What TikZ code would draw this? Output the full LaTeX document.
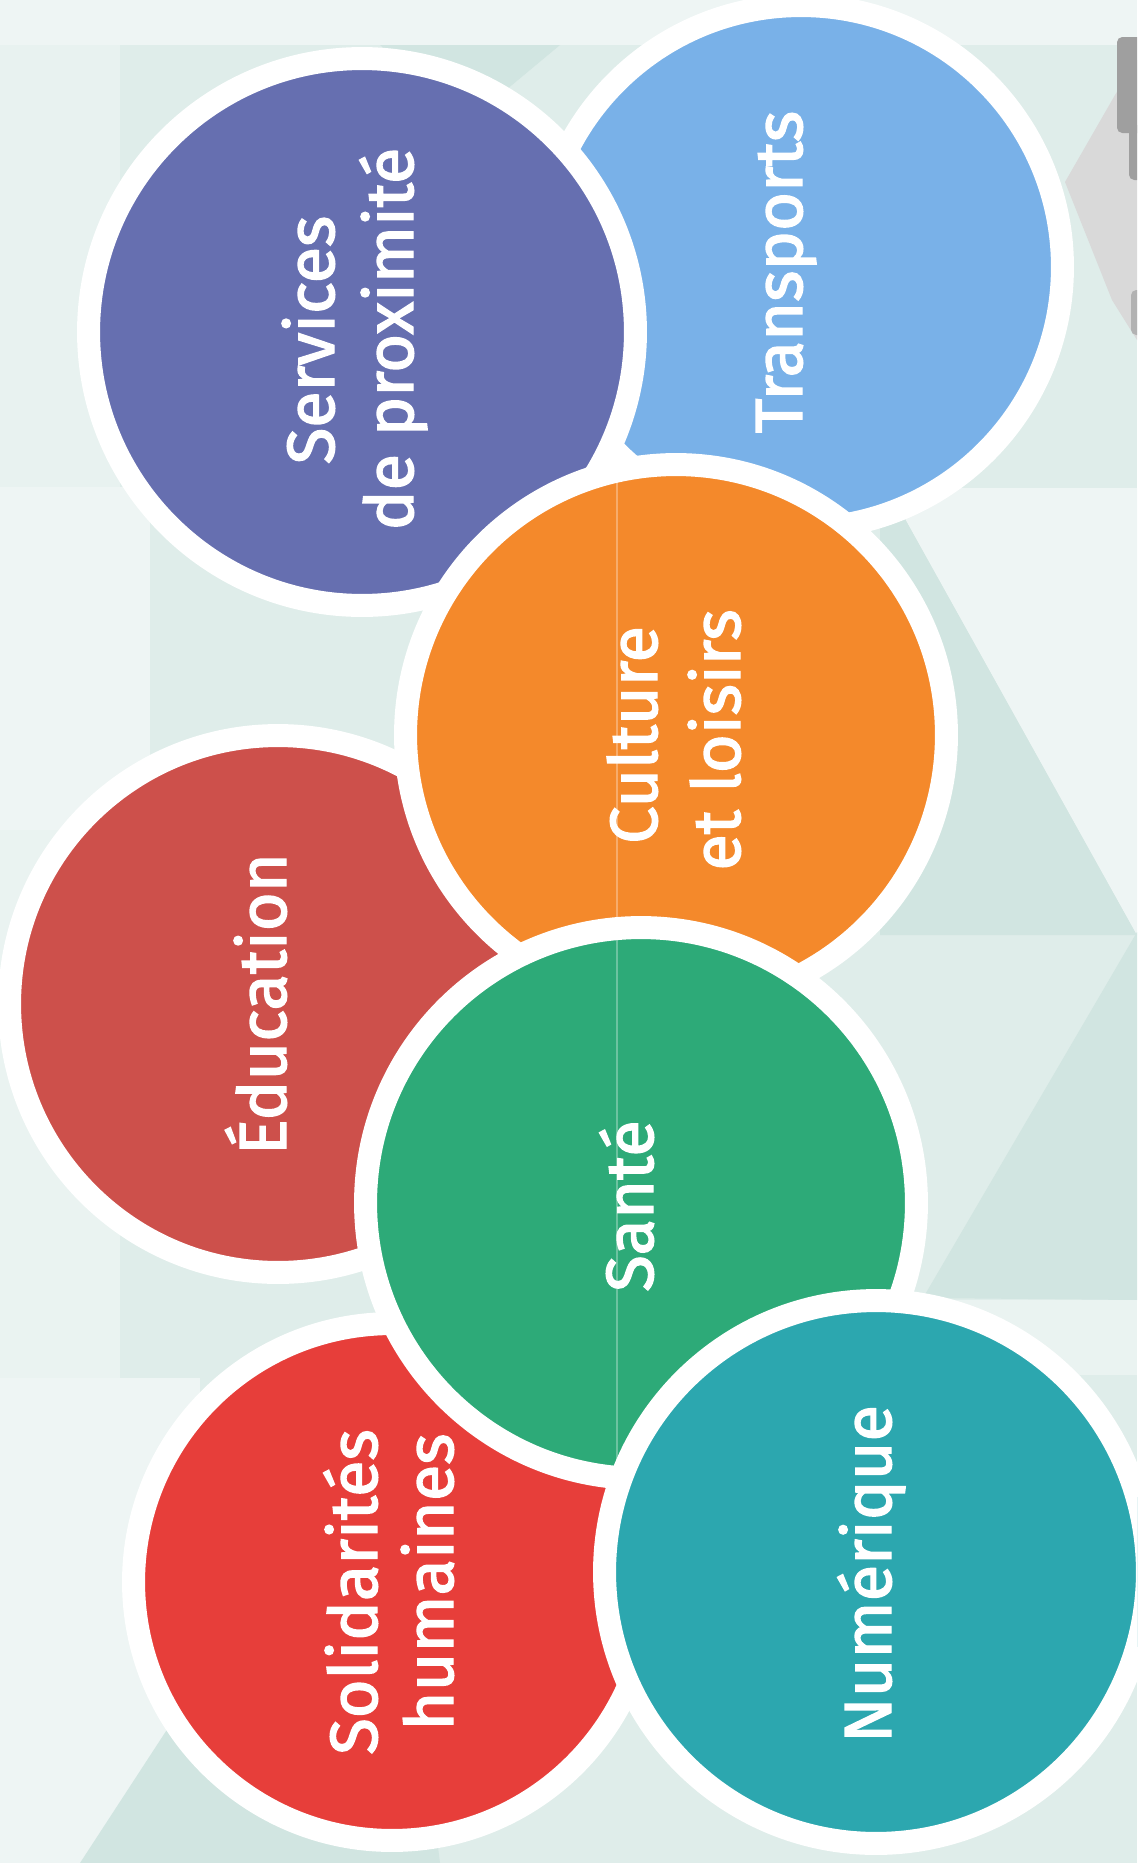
\documentclass[tikz,border=0pt]{standalone}
\usepackage{fontspec}
\setmainfont{Fira Sans}
\newfontfamily\lblfont{Fira Sans}[BoldFont={Fira Sans}, BoldFeatures={FakeBold=2.2}]
\definecolor{bgmid}{HTML}{DFEDEA}
\definecolor{bglight}{HTML}{EEF5F4}
\definecolor{bgdark}{HTML}{D1E5E1}
\definecolor{cTransports}{HTML}{79B1E8}
\definecolor{cServices}{HTML}{666FB0}
\definecolor{cCulture}{HTML}{F4892B}
\definecolor{cEducation}{HTML}{CD504B}
\definecolor{cSante}{HTML}{2DAA78}
\definecolor{cSolidarites}{HTML}{E73E3A}
\definecolor{cNumerique}{HTML}{2CA7AF}
\tikzset{
  bubble/.style={circle, draw=white, line width=0.46cm, inner sep=0pt, outer sep=0pt},
  lbl/.style={text=white, rotate=90, anchor=base, inner sep=0pt, font=\lblfont\bfseries\fontsize{38}{44}\selectfont}
}
\begin{document}
\begin{tikzpicture}[x=0.02cm, y=-0.02cm]
\useasboundingbox (0,0) rectangle (1137,1863);
\clip (0,0) rectangle (1137,1863);
% background
\fill[bgmid] (0,0) rectangle (1137,1863);
\fill[bglight] (0,0) rectangle (1137,45);
\fill[bglight!60!bgmid] (0,45) rectangle (120,487);
\fill[bglight] (0,487) rectangle (150,830);
\fill[bglight!70!bgmid] (0,830) rectangle (120,1378);
\fill[bglight] (0,1378) rectangle (200,1863);
\fill[bgdark] (880,488) -- (888,488) -- (1137,935) -- (880,935) -- cycle;
\fill[bglight] (888,488) -- (1137,488) -- (1137,935) -- cycle;
\fill[bgdark] (1137,932) -- (1137,1300) -- (923,1298) -- cycle;
\fill[bglight!70!bgmid] (880,1300) rectangle (1137,1375);
\fill[bgdark] (80,1863) -- (170,1725) -- (420,1700) -- (440,1863) -- cycle;
\fill[bgdark] (380,45) -- (560,45) -- (470,120) -- cycle;
% grey object at top right
\fill[gray!30] (1065,182) -- (1115,95) -- (1137,60) -- (1137,340) -- (1112,300) -- cycle;
\fill[gray!75, rounded corners=3] (1117,37) rectangle (1145,133);
\fill[gray!75, rounded corners=3] (1129,125) rectangle (1145,180);
\fill[gray!60, rounded corners=3] (1131,290) rectangle (1145,335);
% bubbles, back to front
\node[bubble, fill=cTransports, minimum size=10.46cm] (transports) at (801,267) {};
\node[bubble, fill=cServices, minimum size=10.94cm] (services) at (362,332) {};
\node[bubble, fill=cEducation, minimum size=10.74cm] (education) at (278,1004) {};
\node[bubble, fill=cCulture, minimum size=10.82cm] (culture) at (676,735) {};
\node[bubble, fill=cSolidarites, minimum size=10.34cm] (solidarites) at (392,1582) {};
\node[bubble, fill=cSante, minimum size=11.02cm] (sante) at (641,1203) {};
% fold crease
\draw[white, opacity=0.3, line width=0.8pt] (617,480) -- (617,1460);
\node[bubble, fill=cNumerique, minimum size=10.86cm] (numerique) at (876,1572) {};
% labels
\node[lbl] (tTransports) at (802,272) {Transports};
\node[lbl] (tServicesA) at (334,340) {Services};
\node[lbl] (tServicesB) at (413,339) {de proximité};
\node[lbl] (tCultureA) at (657,735) {Culture};
\node[lbl] (tCultureB) at (740,740) {et loisirs};
\node[lbl] (tEducation) at (286,1004) {Éducation};
\node[lbl] (tSante) at (653,1206) {Santé};
\node[lbl] (tSolidA) at (377,1592) {Solidarités};
\node[lbl] (tSolidB) at (453,1582) {humaines};
\node[lbl] (tNumerique) at (891,1574) {Numérique};
\end{tikzpicture}
\end{document}
